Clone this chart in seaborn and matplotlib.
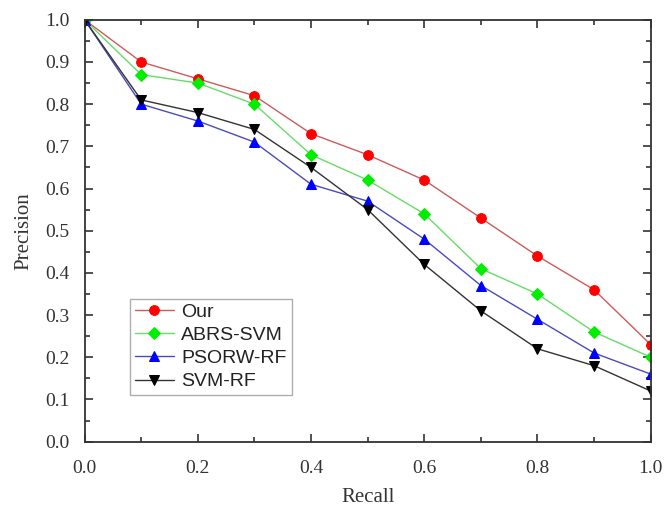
import matplotlib
matplotlib.use("Agg")
import matplotlib.pyplot as plt
import seaborn as sns
import pandas as pd
from matplotlib.ticker import MultipleLocator

recall = [0.0, 0.1, 0.2, 0.3, 0.4, 0.5, 0.6, 0.7, 0.8, 0.9, 1.0]
our = [1.0, 0.90, 0.86, 0.82, 0.73, 0.68, 0.62, 0.53, 0.44, 0.36, 0.23]
abrs_svm = [1.0, 0.87, 0.85, 0.80, 0.68, 0.62, 0.54, 0.41, 0.35, 0.26, 0.20]
psorw_rf = [1.0, 0.80, 0.76, 0.71, 0.61, 0.57, 0.48, 0.37, 0.29, 0.21, 0.16]
svm_rf = [1.0, 0.81, 0.78, 0.74, 0.65, 0.55, 0.42, 0.31, 0.22, 0.18, 0.12]

series_names = ["Our", "ABRS-SVM", "PSORW-RF", "SVM-RF"]
series_vals = [our, abrs_svm, psorw_rf, svm_rf]
line_colors = ["#d05a5a", "#66dd66", "#4a4ac0", "#333333"]
marker_colors = ["#ff0000", "#00ee00", "#0000ff", "#000000"]
markers = ["o", "D", "^", "v"]
msizes = [7, 6, 7.5, 7.5]

rows = []
for name, vals in zip(series_names, series_vals):
    for r, p in zip(recall, vals):
        rows.append({"Recall": r, "Precision": p, "Method": name})
df = pd.DataFrame(rows)

sns.set_style("ticks")
fig = plt.figure(figsize=(6.66, 5.07), dpi=100)
ax = fig.add_axes([0.127, 0.129, 0.850, 0.832])

for name, lc, mc, mk, ms in zip(series_names, line_colors, marker_colors, markers, msizes):
    sub = df[df["Method"] == name]
    sns.lineplot(data=sub, x="Recall", y="Precision", ax=ax, color=lc, linewidth=1.0,
                 marker=mk, markersize=ms, markerfacecolor=mc, markeredgecolor=mc,
                 label=name, estimator=None, sort=False)

ax.set_xlim(0, 1.0)
ax.set_ylim(0, 1.0)
ax.xaxis.set_major_locator(MultipleLocator(0.2))
ax.xaxis.set_minor_locator(MultipleLocator(0.1))
ax.yaxis.set_major_locator(MultipleLocator(0.1))
ax.yaxis.set_minor_locator(MultipleLocator(0.05))
ax.xaxis.set_major_formatter(matplotlib.ticker.FormatStrFormatter("%.1f"))
ax.yaxis.set_major_formatter(matplotlib.ticker.FormatStrFormatter("%.1f"))
ax.tick_params(which="both", direction="in", top=True, right=True, width=1.2, color="#333333")
ax.tick_params(which="major", length=6, labelsize=14, labelcolor="#333333")
ax.tick_params(axis="x", which="major", pad=13)
ax.tick_params(axis="y", which="major", pad=11)
ax.tick_params(which="minor", length=3.5)
for lab in ax.get_xticklabels() + ax.get_yticklabels():
    lab.set_fontfamily("Liberation Serif")
for s in ax.spines.values():
    s.set_linewidth(1.3)
    s.set_color("#333333")

ax.set_xlabel("Recall", fontfamily="Liberation Serif", fontsize=15, color="#333333", labelpad=8)
ax.set_ylabel("Precision", fontfamily="Liberation Serif", fontsize=15, color="#333333", labelpad=8)

leg = ax.legend(loc="lower left", bbox_to_anchor=(0.08, 0.11), fancybox=False, frameon=True,
                prop={"family": "Liberation Sans", "size": 14}, handlelength=2.0,
                borderpad=0.25, labelspacing=0.28, handletextpad=0.4, borderaxespad=0)
leg.get_frame().set_edgecolor("#999999")
leg.get_frame().set_linewidth(1.0)
for t in leg.get_texts():
    t.set_color("#222222")

fig.savefig("out.png", dpi=100)
